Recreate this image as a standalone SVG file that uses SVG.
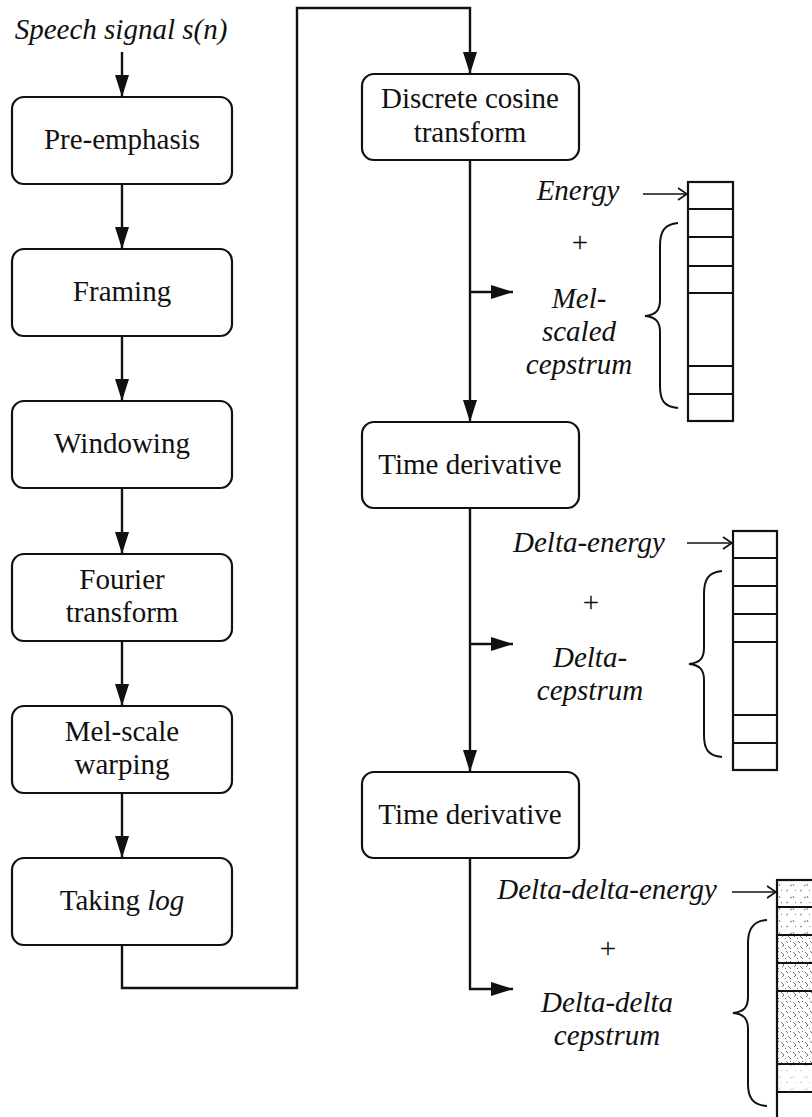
<svg xmlns="http://www.w3.org/2000/svg" width="812" height="1117" viewBox="0 0 812 1117">
  <style>
    .box { fill: #fff; stroke: #111; stroke-width: 2.2; }
    .lbl { font-family: "Liberation Serif", "Times New Roman", serif; font-size: 29px; fill: #111; text-anchor: middle; }
    .it { font-style: italic; }
    .wire { fill: none; stroke: #111; stroke-width: 2.4; }
    .thin { fill: none; stroke: #111; stroke-width: 1.6; }
    .reg { fill: none; stroke: #111; stroke-width: 2.2; }
    .div { stroke: #111; stroke-width: 2; }
    .brace { fill: none; stroke: #111; stroke-width: 2; }
  </style>
  <defs>
    <marker id="arrow" markerUnits="userSpaceOnUse" markerWidth="23" markerHeight="15" refX="22" refY="7" orient="auto">
      <path d="M0,0 L22,7 L0,14 Z" fill="#111"/>
    </marker>
    <marker id="open" markerUnits="userSpaceOnUse" markerWidth="12" markerHeight="14" refX="10" refY="7" orient="auto">
      <path d="M1,1 L10,7 L1,13" fill="none" stroke="#111" stroke-width="1.6"/>
    </marker>
    <!-- speckled shading for the delta-delta register -->
    <pattern id="grainLight" patternUnits="userSpaceOnUse" width="14" height="12">
      <g stroke="#777" stroke-width="1" fill="none">
        <path d="M2,3 l2,-1"/>
        <path d="M9,8 l1,2"/>
        <path d="M6,10 l2,-1"/>
        <path d="M11,2 l1,1"/>
      </g>
    </pattern>
    <pattern id="grainDense" patternUnits="userSpaceOnUse" width="12" height="10">
      <g stroke="#777" stroke-width="1" fill="none">
        <path d="M1,2 l3,3"/>
        <path d="M6,1 l2,2"/>
        <path d="M8,6 l3,3"/>
        <path d="M2,7 l2,-2"/>
        <path d="M10,2 l1,-1"/>
        <path d="M5,8 l1,1"/>
      </g>
    </pattern>
  </defs>

  <!-- input label -->
  <text class="lbl it" x="121" y="39">Speech signal s(n)</text>

  <!-- processing chain, left column -->
  <g id="pre-emphasis">
    <rect class="box" x="12" y="97" width="220" height="87" rx="12"/>
    <text class="lbl" x="122" y="149">Pre-emphasis</text>
  </g>
  <g id="framing">
    <rect class="box" x="12" y="249" width="220" height="87" rx="12"/>
    <text class="lbl" x="122" y="301">Framing</text>
  </g>
  <g id="windowing">
    <rect class="box" x="12" y="401" width="220" height="87" rx="12"/>
    <text class="lbl" x="122" y="453">Windowing</text>
  </g>
  <g id="fourier">
    <rect class="box" x="12" y="554" width="220" height="87" rx="12"/>
    <text class="lbl" x="122" y="589">Fourier</text>
    <text class="lbl" x="122" y="622">transform</text>
  </g>
  <g id="mel-warping">
    <rect class="box" x="12" y="706" width="220" height="87" rx="12"/>
    <text class="lbl" x="122" y="741">Mel-scale</text>
    <text class="lbl" x="122" y="774">warping</text>
  </g>
  <g id="taking-log">
    <rect class="box" x="12" y="858" width="220" height="87" rx="12"/>
    <text class="lbl" x="122" y="910">Taking <tspan class="it">log</tspan></text>
  </g>

  <!-- right column -->
  <g id="dct">
    <rect class="box" x="362" y="74" width="217" height="86" rx="12"/>
    <text class="lbl" x="470" y="108">Discrete cosine</text>
    <text class="lbl" x="470" y="142">transform</text>
  </g>
  <g id="time-derivative-1">
    <rect class="box" x="362" y="422" width="217" height="86" rx="12"/>
    <text class="lbl" x="470" y="474">Time derivative</text>
  </g>
  <g id="time-derivative-2">
    <rect class="box" x="362" y="772" width="217" height="86" rx="12"/>
    <text class="lbl" x="470" y="824">Time derivative</text>
  </g>

  <!-- connectors -->
  <g id="connectors">
    <line class="wire" x1="122" y1="52" x2="122" y2="97" marker-end="url(#arrow)"/>
    <line class="wire" x1="122" y1="184" x2="122" y2="249" marker-end="url(#arrow)"/>
    <line class="wire" x1="122" y1="336" x2="122" y2="401" marker-end="url(#arrow)"/>
    <line class="wire" x1="122" y1="488" x2="122" y2="554" marker-end="url(#arrow)"/>
    <line class="wire" x1="122" y1="641" x2="122" y2="706" marker-end="url(#arrow)"/>
    <line class="wire" x1="122" y1="793" x2="122" y2="858" marker-end="url(#arrow)"/>
    <polyline class="wire" points="122,945 122,988 297,988 297,8 470,8 470,74" marker-end="url(#arrow)"/>
    <line class="wire" x1="470" y1="160" x2="470" y2="422" marker-end="url(#arrow)"/>
    <line class="wire" x1="470" y1="292" x2="513" y2="292" marker-end="url(#arrow)"/>
    <line class="wire" x1="470" y1="508" x2="470" y2="772" marker-end="url(#arrow)"/>
    <line class="wire" x1="470" y1="644" x2="513" y2="644" marker-end="url(#arrow)"/>
    <polyline class="wire" points="470,858 470,989 513,989" marker-end="url(#arrow)"/>
    <line class="thin" x1="643" y1="194" x2="687" y2="194" marker-end="url(#open)"/>
    <line class="thin" x1="687" y1="543" x2="732" y2="543" marker-end="url(#open)"/>
    <line class="thin" x1="732" y1="892" x2="776" y2="892" marker-end="url(#open)"/>
  </g>

  <!-- feature labels -->
  <g id="static-features">
    <text class="lbl it" x="578" y="200">Energy</text>
    <text class="lbl" x="580" y="252">+</text>
    <text class="lbl it" x="579" y="308">Mel-</text>
    <text class="lbl it" x="579" y="341">scaled</text>
    <text class="lbl it" x="579" y="374">cepstrum</text>
  </g>
  <g id="delta-features">
    <text class="lbl it" x="589" y="552">Delta-energy</text>
    <text class="lbl" x="591" y="612">+</text>
    <text class="lbl it" x="590" y="667">Delta-</text>
    <text class="lbl it" x="590" y="700">cepstrum</text>
  </g>
  <g id="delta-delta-features">
    <text class="lbl it" x="607" y="899">Delta-delta-energy</text>
    <text class="lbl" x="608" y="958">+</text>
    <text class="lbl it" x="607" y="1012">Delta-delta</text>
    <text class="lbl it" x="607" y="1045">cepstrum</text>
  </g>

  <!-- feature vectors -->
  <g id="vector-static">
    <rect class="reg" x="688" y="182" width="45" height="239"/>
    <line class="div" x1="688" y1="209" x2="733" y2="209"/>
    <line class="div" x1="688" y1="237" x2="733" y2="237"/>
    <line class="div" x1="688" y1="266" x2="733" y2="266"/>
    <line class="div" x1="688" y1="293" x2="733" y2="293"/>
    <line class="div" x1="688" y1="366" x2="733" y2="366"/>
    <line class="div" x1="688" y1="394" x2="733" y2="394"/>
    <path class="brace" d="M678,223 C664,224 660,232 660,246 L660,300 C660,310 656,315 645,316 C656,317 660,322 660,332 L660,386 C660,400 664,407 678,408"/>
  </g>
  <g id="vector-delta">
    <rect class="reg" x="733" y="531" width="44" height="239"/>
    <line class="div" x1="733" y1="558" x2="777" y2="558"/>
    <line class="div" x1="733" y1="586" x2="777" y2="586"/>
    <line class="div" x1="733" y1="614" x2="777" y2="614"/>
    <line class="div" x1="733" y1="642" x2="777" y2="642"/>
    <line class="div" x1="733" y1="715" x2="777" y2="715"/>
    <line class="div" x1="733" y1="743" x2="777" y2="743"/>
    <path class="brace" d="M722,571 C708,572 704,580 704,594 L704,648 C704,658 700,663 689,664 C700,665 704,670 704,680 L704,735 C704,749 708,756 722,757"/>
  </g>
  <g id="vector-delta-delta">
    <rect x="777" y="880" width="45" height="27" fill="url(#grainLight)"/>
    <rect x="777" y="907" width="45" height="28" fill="url(#grainLight)"/>
    <rect x="777" y="935" width="45" height="56" fill="url(#grainDense)"/>
    <rect x="777" y="991" width="45" height="73" fill="url(#grainDense)"/>
    <rect x="777" y="1064" width="45" height="28" fill="url(#grainLight)" opacity="0.4"/>
    <rect class="reg" x="777" y="880" width="45" height="239"/>
    <line class="div" x1="777" y1="907" x2="822" y2="907"/>
    <line class="div" x1="777" y1="935" x2="822" y2="935"/>
    <line class="div" x1="777" y1="963" x2="822" y2="963"/>
    <line class="div" x1="777" y1="991" x2="822" y2="991"/>
    <line class="div" x1="777" y1="1064" x2="822" y2="1064"/>
    <line class="div" x1="777" y1="1092" x2="822" y2="1092"/>
    <path class="brace" d="M767,920 C753,921 748,929 748,943 L748,997 C748,1007 744,1012 733,1013 C744,1014 748,1019 748,1029 L748,1084 C748,1098 753,1105 767,1106"/>
  </g>
</svg>
